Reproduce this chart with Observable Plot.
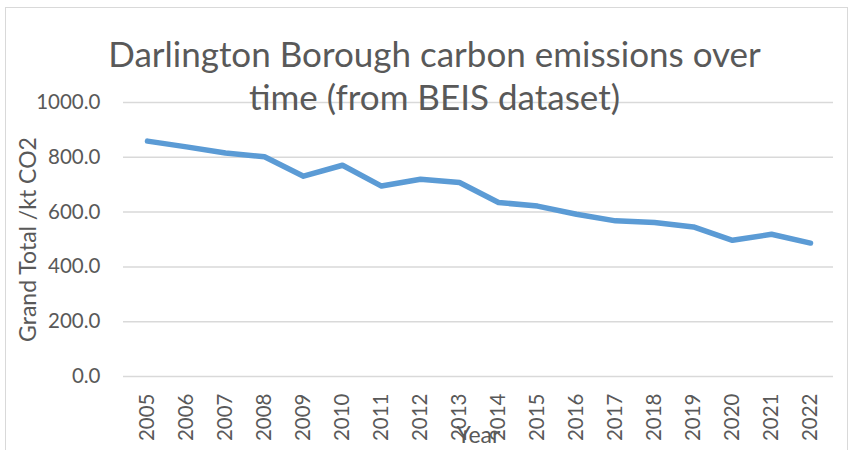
<!DOCTYPE html>
<html><head><meta charset="utf-8">
<script src="https://cdn.jsdelivr.net/npm/d3@7"></script>
<script src="https://cdn.jsdelivr.net/npm/@observablehq/plot@0.6"></script>
<style>
html,body{margin:0;padding:0;background:#fff;}
#wrap{position:relative;width:852px;height:450px;overflow:hidden;}
#frame{position:absolute;left:5px;top:7px;width:843px;height:460px;border:1.5px solid #d9d9d9;box-sizing:border-box;pointer-events:none;}
</style></head>
<body><div id="wrap"><div id="frame"></div></div>
<script>
const years = ["2005","2006","2007","2008","2009","2010","2011","2012","2013","2014","2015","2016","2017","2018","2019","2020","2021","2022"];
const emissions = [859,838,816,802,731,771,695,720,708,635,622,592,568,562,546,497,519,487];
const yTicks = [0,200,400,600,800,1000];
const titleLines = ["Darlington Borough carbon emissions over","time (from BEIS dataset)"];
const yLabel = "Grand Total /kt CO2";
const xLabel = "Year";

const data = years.map((y,i)=>({year:y, value:emissions[i]}));
const font = "Lato, 'Open Sans', sans-serif";
const grey = "#595959";

const chart = Plot.plot({
  width: 852, height: 450,
  marginTop: 102, marginRight: 19, marginBottom: 74, marginLeft: 123,
  style: {fontFamily: font, color: grey, background: "transparent", overflow: "visible"},
  x: {type: "point", domain: years, padding: 0.5},
  y: {domain: [0,1000]},
  marks: [
    Plot.gridY(yTicks, {stroke: "#d9d9d9", strokeOpacity: 1, strokeWidth: 1.5}),
    Plot.axisY(yTicks, {tickSize: 0, tickPadding: 23, tickFormat: d => d.toFixed(1), fontSize: 20.5, fill: grey, label: null}),
    Plot.axisY({tickSize: 0, ticks: [], label: yLabel, labelAnchor: "center", labelArrow: "none", labelOffset: 104, fontSize: 23, fill: grey}),
    Plot.axisX({tickSize: 0, tickRotate: -90, tickPadding: 17, fontSize: 20.5, fill: grey, label: null}),
    Plot.axisX({tickSize: 0, ticks: [], label: xLabel, labelAnchor: "center", labelArrow: "none", labelOffset: 66, fontSize: 23, fill: grey}),
    Plot.line(data, {x: "year", y: "value", stroke: "#5B9BD5", strokeWidth: 5.5, strokeLinecap: "round", strokeLinejoin: "round"}),
    Plot.text([titleLines[0]], {text: d => d, frameAnchor: "top", dx: -44, dy: -36, lineAnchor: "bottom", fontSize: 35, fill: grey}),
    Plot.text([titleLines[1]], {text: d => d, frameAnchor: "top", dx: -44, dy: 7, lineAnchor: "bottom", fontSize: 35, fill: grey})
  ]
});
document.getElementById("wrap").appendChild(chart);
chart.style.position = "absolute"; chart.style.left = "0"; chart.style.top = "0";
</script></body></html>
